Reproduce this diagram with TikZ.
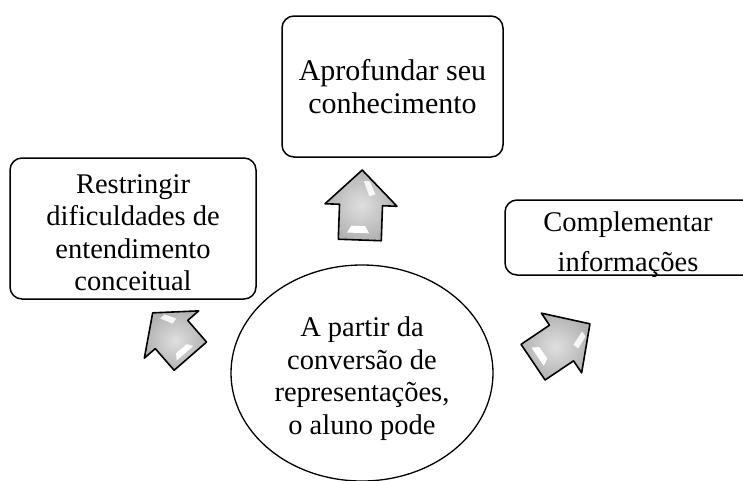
\documentclass[tikz,border=0pt]{standalone}
\usepackage{fontspec}
\setmainfont{Liberation Serif}
\usepackage{tikz}
\usetikzlibrary{
  shapes.geometric, positioning
}

\tikzset{
  roundbox/.style={draw, line width=1.5pt, rounded corners=12pt, inner sep=0pt},
  bodytext/.style={font=\fontsize{28.5}{32.5}\selectfont, align=center},
  arrowbody/.style={draw=black, line width=1.6pt, line join=round,
                    inner color=gray!25, outer color=gray!60},
  fatarrow/.pic={
    \path[arrowbody] (-21.5,35) -- (21.5,35) -- (21.5,0) -- (36,0)
        -- (0,-35) -- (-36,0) -- (-21.5,0) -- cycle;
    % glossy highlights
    \fill[white] (-13,28) -- (9,28) -- (5,21) -- (-9,21) -- cycle;
    \fill[white, opacity=.85] (2,-24) -- (8,-24) -- (14,-11) -- (8,-9) -- cycle;
  }
}

\begin{document}
\begin{tikzpicture}[x=1pt, y=-1pt]
    \clip (0,0) rectangle (743,480);

    % centre
    \node[draw, ellipse, line width=1.3pt, bodytext,
          minimum width=262pt, minimum height=216pt] (centre) at (362,373)
      {\rule{0pt}{31pt}A partir da\\conversão de\\representações,\\o aluno pode};

    % outcomes
    \node[roundbox, bodytext, font=\fontsize{30}{32.5}\selectfont,
          minimum width=221pt, minimum height=141pt] (deepen) at (392.5,86.5)
      {Aprofundar seu\\conhecimento};
    \node[roundbox, bodytext,
          minimum width=246pt, minimum height=141pt] (restrict) at (133,228.5)
      {\rule{0pt}{27.5pt}Restringir\\dificuldades de\\entendimento\\conceitual};
    \node[roundbox, minimum width=295pt, minimum height=75pt] (complement) at (652.5,237.5) {};
    \node[bodytext, font=\fontsize{28.5}{40}\selectfont] (complementtext) at (628,245)
      {Complementar\\informações};

    % block arrows
    \pic[rotate=-2] (updeepen) at (361,205) {fatarrow};
    \pic[rotate=41, yscale=.82] (uprestrict) at (171.5,334.5) {fatarrow};
    \pic[rotate=-56, yscale=.98] (upcomplement) at (561.5,343) {fatarrow};
  \end{tikzpicture}
\end{document}
